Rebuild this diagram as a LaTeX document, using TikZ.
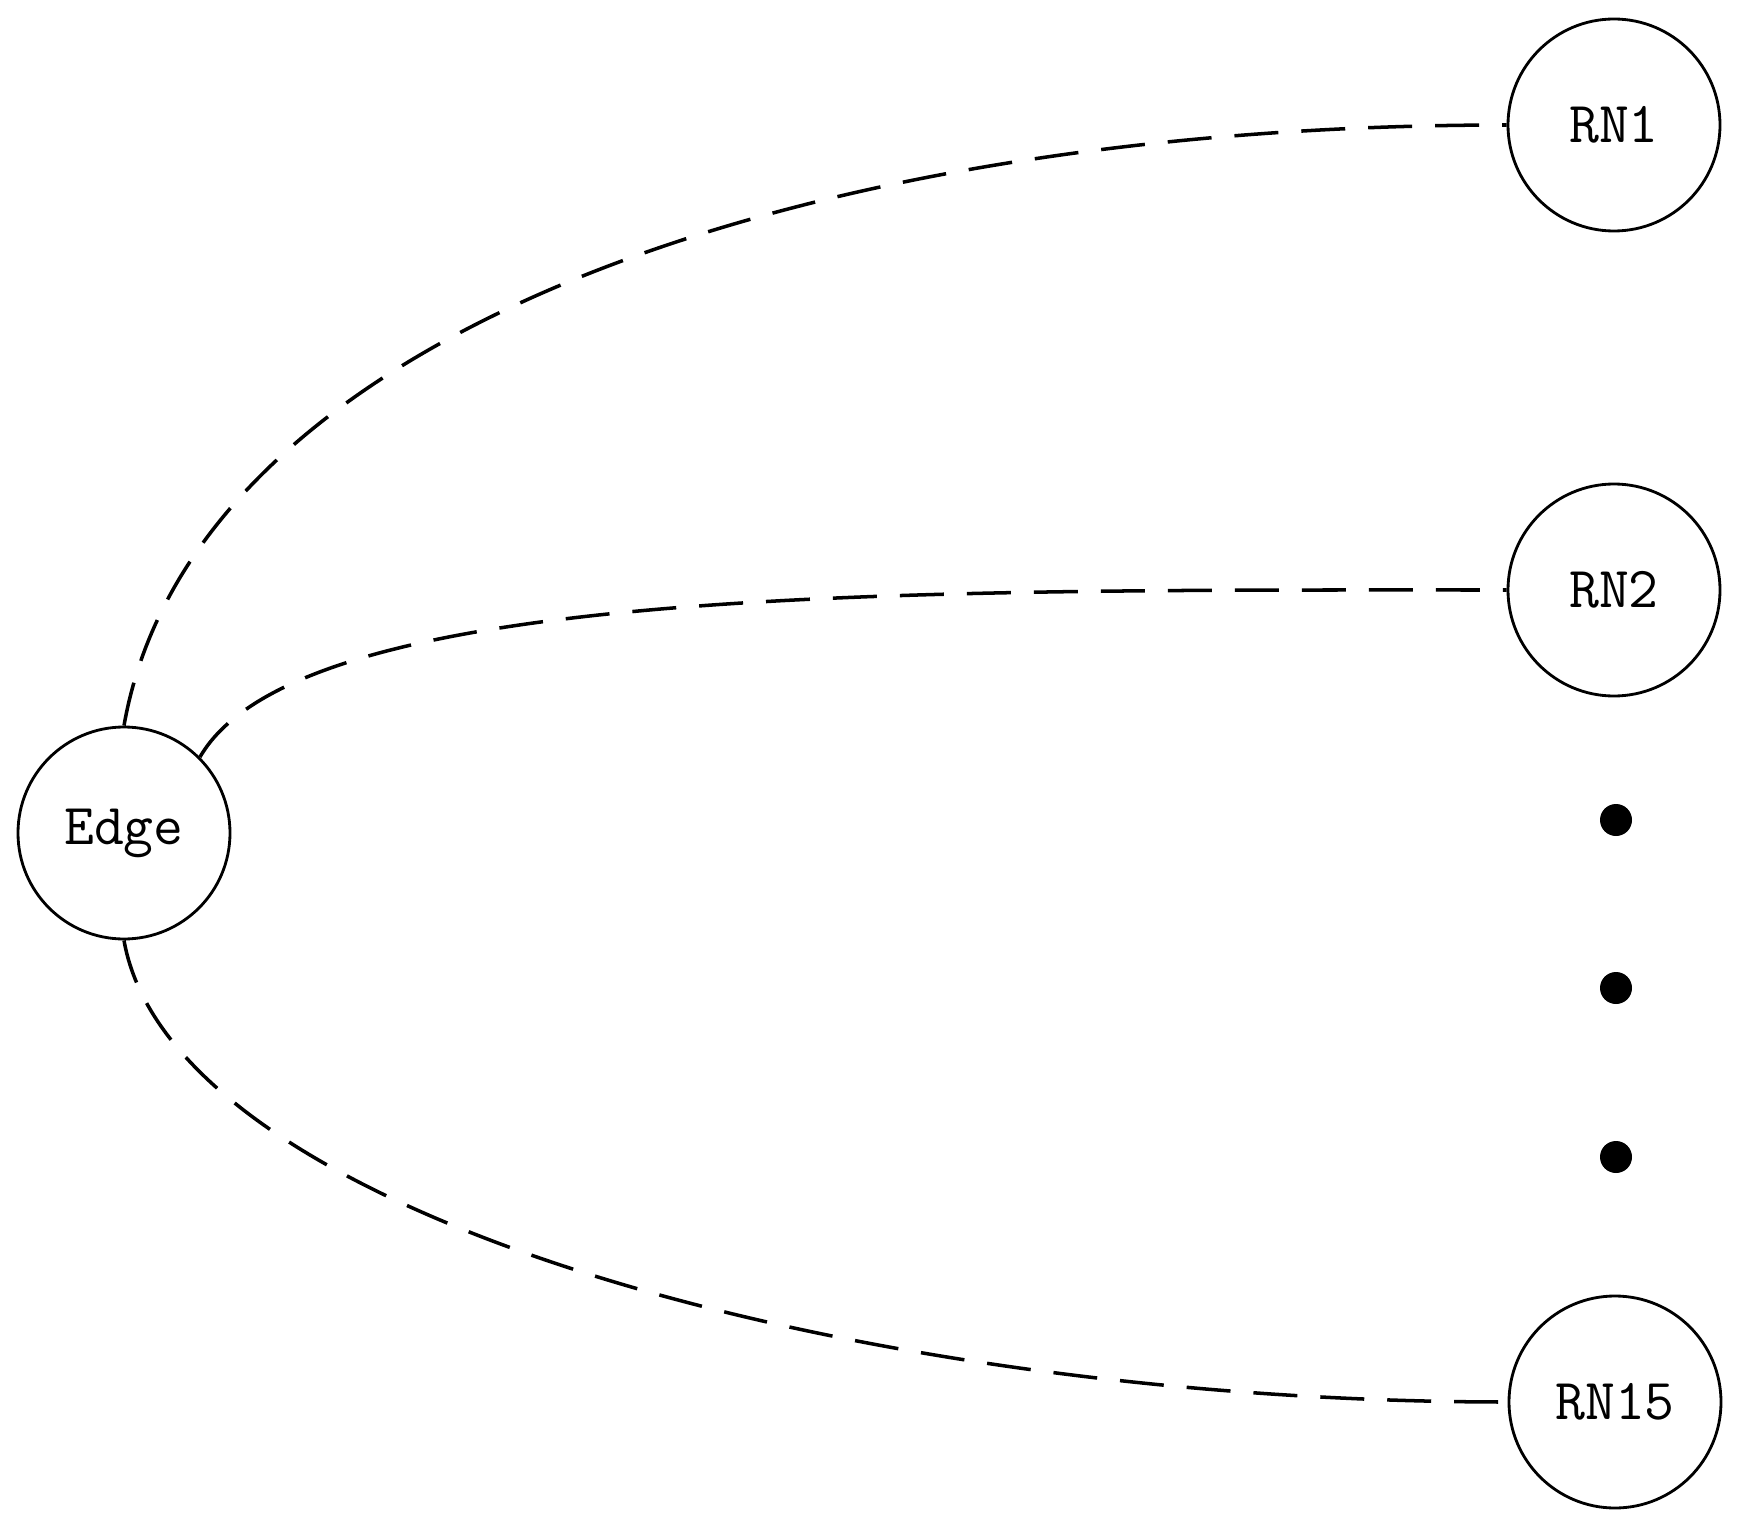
\documentclass[tikz,border=0pt]{standalone}
\usepackage{tikz}
\tikzset{
  noeud/.style={
           circle,
           draw=black, line width=0.8pt,
           minimum size=2.12cm,
           inner sep=0pt,
           font=\fontsize{16.5}{20}\selectfont\ttfamily,
           text centered},
  lien/.style={
           black, line width=1pt,
           dash pattern=on 0.44cm off 0.23cm},
  point/.style={
           circle, fill=black, inner sep=0pt,
           minimum size=0.32cm}
    }
\begin{document}
\begin{tikzpicture}
      \useasboundingbox (0,0) rectangle (17.43,-15.30);
      \node[noeud] (0) at (1.24,-8.33) {Edge};
      \node[noeud] (1) at (16.14,-1.25) {RN1};
      \node[noeud] (2) at (16.14,-5.90) {RN2};
      \node[noeud] (3) at (16.15,-14.02) {RN15};
      \node[point] (d1) at (16.16,-8.20) {};
      \node[point] (d2) at (16.16,-9.88) {};
      \node[point] (d3) at (16.16,-11.57) {};
      \draw[lien] (0.north) to[out=80,in=180,out distance=4cm,in distance=7cm] (1);
      \draw[lien] (0.45) to[out=60,in=180,out distance=2cm,in distance=6cm] (2);
      \draw[lien] (0.south) to[out=-80,in=180,out distance=2.8cm,in distance=6.5cm] (3);
\end{tikzpicture}
\end{document}
